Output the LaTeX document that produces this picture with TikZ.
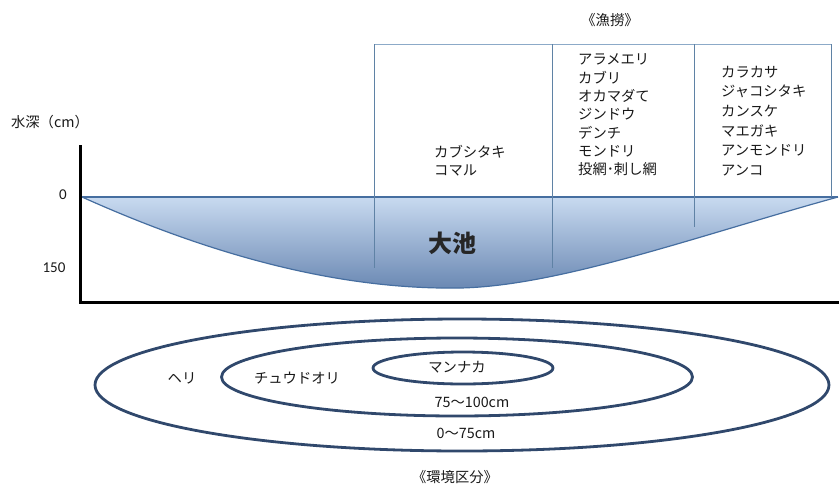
\documentclass[tikz,border=0pt]{standalone}
\usepackage{fontspec}
\usetikzlibrary{shapes.geometric}
\newfontfamily\cjk{Noto Sans CJK JP}
\newfontfamily\calib{Carlito}
\definecolor{gridcol}{RGB}{95,130,165}
\definecolor{topcol}{RGB}{140,170,200}
\definecolor{watertop}{RGB}{200,218,240}
\definecolor{waterbot}{RGB}{105,135,178}
\definecolor{waterline}{RGB}{70,110,160}
\definecolor{zonecol}{RGB}{48,72,108}
\definecolor{txt}{RGB}{25,25,25}
\begin{document}
\begin{tikzpicture}[x=1pt,y=-1pt,
  lbl/.style={font=\cjk\fontsize{14.3}{18.3}\selectfont, text=txt, inner sep=0pt, align=left, anchor=west},
  biglbl/.style={font=\cjk\fontsize{14.3}{16}\selectfont, text=txt, inner sep=0pt},
  numlbl/.style={font=\calib\fontsize{15}{16}\selectfont, text=txt, inner sep=0pt},
  gridline/.style={draw=gridcol, line width=0.8pt},
  zone/.style={ellipse, draw=zonecol, line width=2.8pt, inner sep=0pt},
  axis/.style={draw=black, line width=3pt}]
\useasboundingbox (0,0) rectangle (839,491);

% water body
\coordinate (wl) at (82,197);
\coordinate (wr) at (838,197);
\coordinate (wb) at (460,288);
\shade[top color=watertop, bottom color=waterbot]
  (wl) -- (wr) .. controls (700,235) and (560,286) .. (wb)
  .. controls (330,290) and (200,250) .. (wl) -- cycle;
\draw[waterline, line width=1.2pt]
  (wl) .. controls (200,250) and (330,290) .. (wb)
  .. controls (560,286) and (700,235) .. (wr);
\draw[waterline, line width=1.4pt] (wl) -- (wr);

% fishing table lines
\coordinate (t1) at (374,44);
\coordinate (t2) at (552,44);
\coordinate (t3) at (694,44);
\coordinate (t4) at (831,44);
\coordinate (b1) at (374,268);
\coordinate (b2) at (552,268);
\coordinate (b3) at (694,227);
\coordinate (b4) at (831,197);
\draw[draw=topcol, line width=1pt] (t1) -- (t4);
\draw[gridline] (t1) -- (b1);
\draw[gridline] (t2) -- (b2);
\draw[gridline] (t3) -- (b3);
\draw[gridline] (t4) -- (b4);

% axes
\coordinate (ay) at (80,145);
\coordinate (ao) at (80,302);
\coordinate (ax) at (839,302);
\draw[axis] (ay) -- (ao) -- (ax);

% labels
\node[biglbl] (gyoro) at (610,20) {《漁撈》};
\node[biglbl] (suishin) at (50,122) {水深（cm）};
\node[numlbl] (zero) at (63,195) {0};
\node[numlbl] (d150) at (54,268) {150};
\node[font=\cjk\bfseries\fontsize{24}{26}\selectfont, text=black!85, inner sep=0pt] (ooike) at (452,243) {大池};

\node[lbl, font=\cjk\fontsize{14.3}{18}\selectfont] (col1) at (434,161) {カブシタキ\\コマル};
\node[lbl] (col2) at (578,115) {アラメエリ\\カブリ\\オカマダて\\ジンドウ\\デンチ\\モンドリ\\投網･刺し網};
\node[lbl, font=\cjk\fontsize{14.3}{19.6}\selectfont] (col3) at (721,121) {カラカサ\\ジャコシタキ\\カンスケ\\マエガキ\\アンモンドリ\\アンコ};

% zones
\node[zone, minimum width=734pt, minimum height=132pt] (outer) at (462,385) {};
\node[zone, minimum width=471pt, minimum height=78pt] (middle) at (457,377) {};
\node[zone, minimum width=180pt, minimum height=32pt] (inner) at (463,368) {};

\node[biglbl] (heri) at (182,378) {ヘリ};
\node[biglbl] (chuu) at (297,378) {チュウドオリ};
\node[biglbl] (mannaka) at (457,367) {マンナカ};
\node[biglbl] (r1) at (472,402) {75～100cm};
\node[biglbl] (r2) at (466,433) {0～75cm};
\node[biglbl] (kankyo) at (455,477) {《環境区分》};
\end{tikzpicture}
\end{document}
